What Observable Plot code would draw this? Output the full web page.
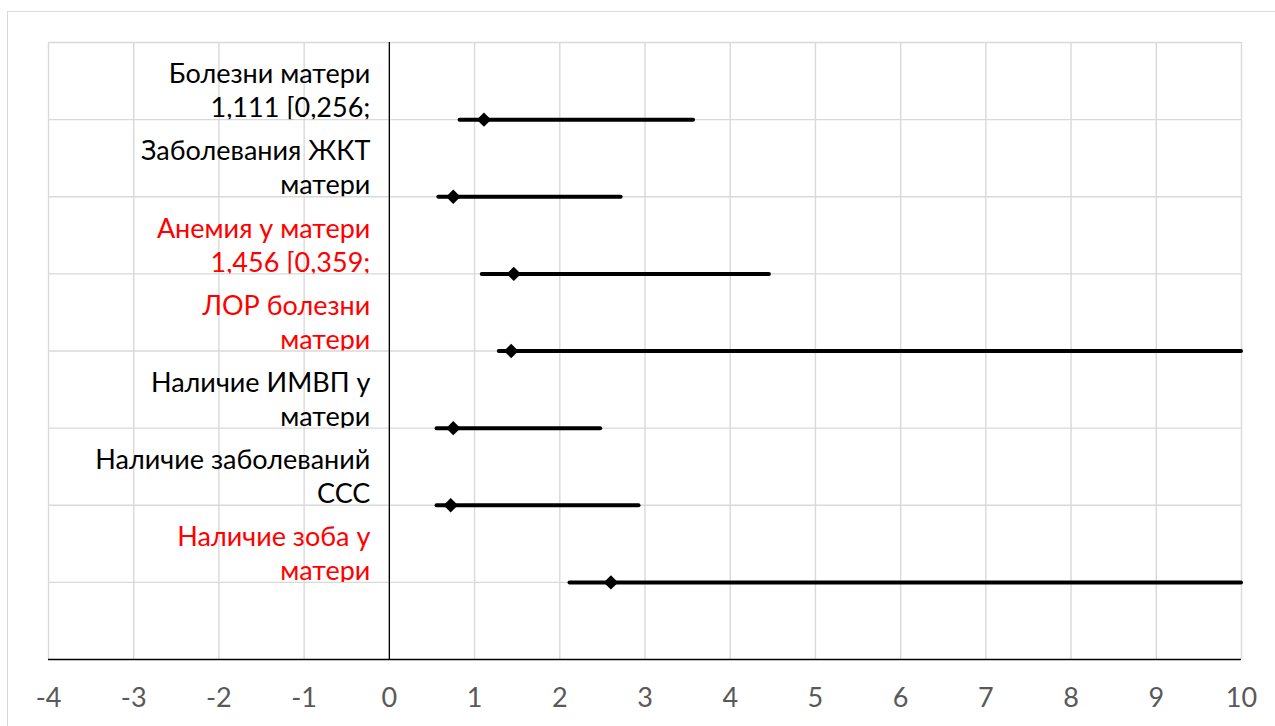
<!DOCTYPE html>
<html><head><meta charset="utf-8">
<script src="https://cdn.jsdelivr.net/npm/d3@7"></script>
<script src="https://cdn.jsdelivr.net/npm/@observablehq/plot@0.6"></script>
<style>
body{margin:0;background:#fff;overflow:hidden;width:1275px;height:726px}
#frame{position:absolute;left:7px;top:11px;width:1300px;height:760px;border:1.5px solid #d9d9d9;box-sizing:border-box}
#chart{position:absolute;left:0;top:0}
</style></head><body><div id="frame"></div><div id="chart"></div>
<script>
// ---- data ----
const labelLine1 = ["Болезни матери", "Заболевания ЖКТ", "Анемия у матери", "ЛОР болезни", "Наличие ИМВП у", "Наличие заболеваний", "Наличие зоба у"];
const labelLine2 = ["1,111 [0,256;", "матери", "1,456 [0,359;", "матери", "матери", "ССС", "матери"];
const significant = [false, false, true, true, false, false, true];
const oddsRatio = [1.11, 0.75, 1.46, 1.43, 0.75, 0.72, 2.60];
const ciLow = [0.83, 0.58, 1.09, 1.29, 0.56, 0.56, 2.12];
const ciHigh = [3.57, 2.72, 4.46, 10, 2.48, 2.93, 10];
const xTicks = [-4, -3, -2, -1, 0, 1, 2, 3, 4, 5, 6, 7, 8, 9, 10];

const table = labelLine1.map((l1, i) => ({
  row: i + 1, line1: l1, line2: labelLine2[i], sig: significant[i],
  or: oddsRatio[i], lo: ciLow[i], hi: ciHigh[i]
}));
const nSlots = table.length + 1;
const gridRows = d3.range(0, nSlots);

const FONT = "Lato, 'Open Sans', sans-serif";
let clipId = 0;
function clipToRow(index, scales, values, dimensions, context, next) {
  const g = next(index, scales, values, dimensions, context);
  const ns = "http://www.w3.org/2000/svg";
  const outer = document.createElementNS(ns, "g");
  const texts = Array.from(g.querySelectorAll("text"));
  texts.forEach((t, k) => {
    const d = table[index[k]];
    const id = "rowclip-" + (clipId++);
    const cp = document.createElementNS(ns, "clipPath");
    cp.setAttribute("id", id);
    const r = document.createElementNS(ns, "rect");
    const yTop = scales.y(d.row - 1), yBot = scales.y(d.row);
    r.setAttribute("x", 0); r.setAttribute("y", yTop);
    r.setAttribute("width", dimensions.width); r.setAttribute("height", yBot - yTop);
    cp.appendChild(r); outer.appendChild(cp);
    const wrap = document.createElementNS(ns, "g");
    wrap.setAttribute("clip-path", `url(#${id})`);
    const inner = g.cloneNode(false);
    inner.appendChild(t);
    wrap.appendChild(inner);
    outer.appendChild(wrap);
  });
  return outer;
}

const chart = Plot.plot({
  width: 1275, height: 726,
  marginLeft: 48, marginRight: 34, marginTop: 42, marginBottom: 67,
  style: {fontFamily: FONT, background: "transparent", overflow: "visible"},
  x: {domain: [-4, 10]},
  y: {domain: [nSlots, 0], axis: null},
  marks: [
    Plot.ruleX(xTicks, {stroke: "#d9d9d9", strokeWidth: 1.4}),
    Plot.ruleY(gridRows, {stroke: "#d9d9d9", strokeWidth: 1.4}),
    Plot.ruleX([0], {stroke: "black", strokeWidth: 1.3}),
    Plot.ruleY([nSlots], {stroke: "black", strokeWidth: 1.6}),
    Plot.axisX(xTicks, {tickSize: 0, tickPadding: 28, fontSize: 27, fill: "#595959", fontFamily: FONT, tickFormat: d => String(d)}),
    Plot.text(table, {x: 0, y: "row", text: "line1", dx: -19, dy: -45, textAnchor: "end", fontSize: 27,
      fill: d => d.sig ? "#ff0000" : "#000000", render: clipToRow}),
    Plot.text(table, {x: 0, y: "row", text: "line2", dx: -19, dy: -11, textAnchor: "end", fontSize: 27,
      fill: d => d.sig ? "#ff0000" : "#000000", render: clipToRow}),
    Plot.ruleY(table, {y: "row", x1: "lo", x2: "hi", stroke: "black", strokeWidth: 4, strokeLinecap: "round"}),
    Plot.dot(table, {x: "or", y: "row", symbol: "diamond2", r: 6.5, fill: "black"})
  ]
});
document.getElementById("chart").appendChild(chart);
</script></body></html>
